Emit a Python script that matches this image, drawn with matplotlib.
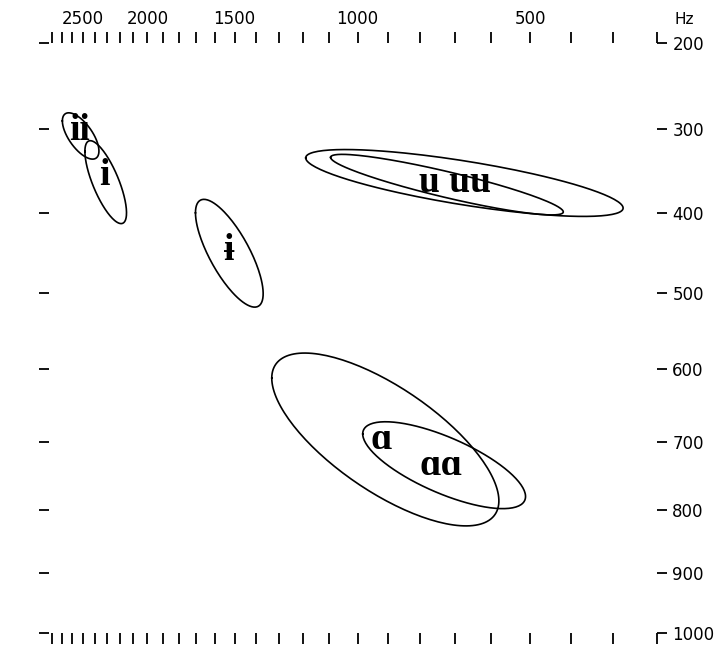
import numpy as np
import matplotlib
matplotlib.use('Agg')
import matplotlib.pyplot as plt
from matplotlib.ticker import FixedLocator, FuncFormatter

# Vowel ellipses: centre F2/F1 (Hz), spread in Bark, F2-F1 correlation
ell_f2 = [2523, 2309, 1526, 673, 722, 908, 730]
ell_f1 = [308, 363, 450, 364, 366, 697, 734]
ell_sd2 = [0.40, 0.455, 0.74, 3.47, 2.544, 2.483, 1.78]
ell_sd1 = [0.257, 0.46, 0.598, 0.371, 0.336, 0.959, 0.482]
ell_r = [-0.65, -0.74, -0.75, -0.75, -0.90, -0.71, -0.72]

# Vowel symbols and where they sit (Hz)
label_text = ['ii', 'i', 'ɨ', 'u uu', 'ɑ', 'ɑɑ']
label_f2 = [2532, 2317, 1526, 698, 921, 738]
label_f1 = [302, 355, 446, 363, 697, 735]

# Axis ticks
f2_ticks = list(range(200, 2900, 100))
f2_labels = [500, 1000, 1500, 2000, 2500]
f1_ticks = [200, 300, 400, 500, 600, 700, 800, 900, 1000]


def bark(f):
    f = np.asarray(f, dtype=float)
    return 13 * np.arctan(0.00076 * f) + 3.5 * np.arctan((f / 7500.0) ** 2)


_grid = np.linspace(0, 20000, 200001)
_grid_b = bark(_grid)


def inv_bark(z):
    return np.interp(z, _grid_b, _grid)


fig = plt.figure(figsize=(7.19, 6.48), dpi=100)
W, H = 719, 648
ax = fig.add_axes([49 / W, 1 - 633 / H, (657 - 49) / W, (633 - 43) / H])

ax.set_xscale('function', functions=(bark, inv_bark))
ax.set_yscale('function', functions=(bark, inv_bark))
ax.set_xlim(2830, 200)
ax.set_ylim(1000, 200)

# ellipses drawn in Bark space, mapped back to Hz
t = np.linspace(0, 2 * np.pi, 160)
for c2, c1, s2, s1, r in zip(ell_f2, ell_f1, ell_sd2, ell_sd1, ell_r):
    b2 = bark(c2) + s2 * np.cos(t)
    b1 = bark(c1) + s1 * (r * np.cos(t) + np.sqrt(1 - r ** 2) * np.sin(t))
    ax.plot(inv_bark(b2), inv_bark(b1), color='black', lw=1.2)

for txt, x, y in zip(label_text, label_f2, label_f1):
    ax.text(x, y, txt, ha='center', va='center', fontsize=27,
            fontweight='bold', family=['Liberation Serif', 'DejaVu Serif'])

for s in ax.spines.values():
    s.set_visible(False)

ax.xaxis.set_major_locator(FixedLocator(f2_ticks))
ax.xaxis.set_major_formatter(FuncFormatter(
    lambda v, p: f'{int(round(v))}' if int(round(v)) in f2_labels else ''))
ax.xaxis.set_minor_locator(FixedLocator([]))
ax.tick_params(axis='x', top=True, bottom=True, labeltop=True,
               labelbottom=False, direction='out', length=8, width=1.3,
               labelsize=12, pad=3)

ax.yaxis.set_major_locator(FixedLocator(f1_ticks))
ax.yaxis.set_major_formatter(FuncFormatter(lambda v, p: f'{int(round(v))}'))
ax.yaxis.set_minor_locator(FixedLocator([]))
ax.tick_params(axis='y', left=True, right=True, labelleft=False,
               labelright=True, direction='out', length=7, width=1.3,
               labelsize=12, pad=4)

fig.text(684 / W, 1 - 19 / H, 'Hz', ha='center', va='center', fontsize=11)

plt.savefig('out.png', dpi=100)
